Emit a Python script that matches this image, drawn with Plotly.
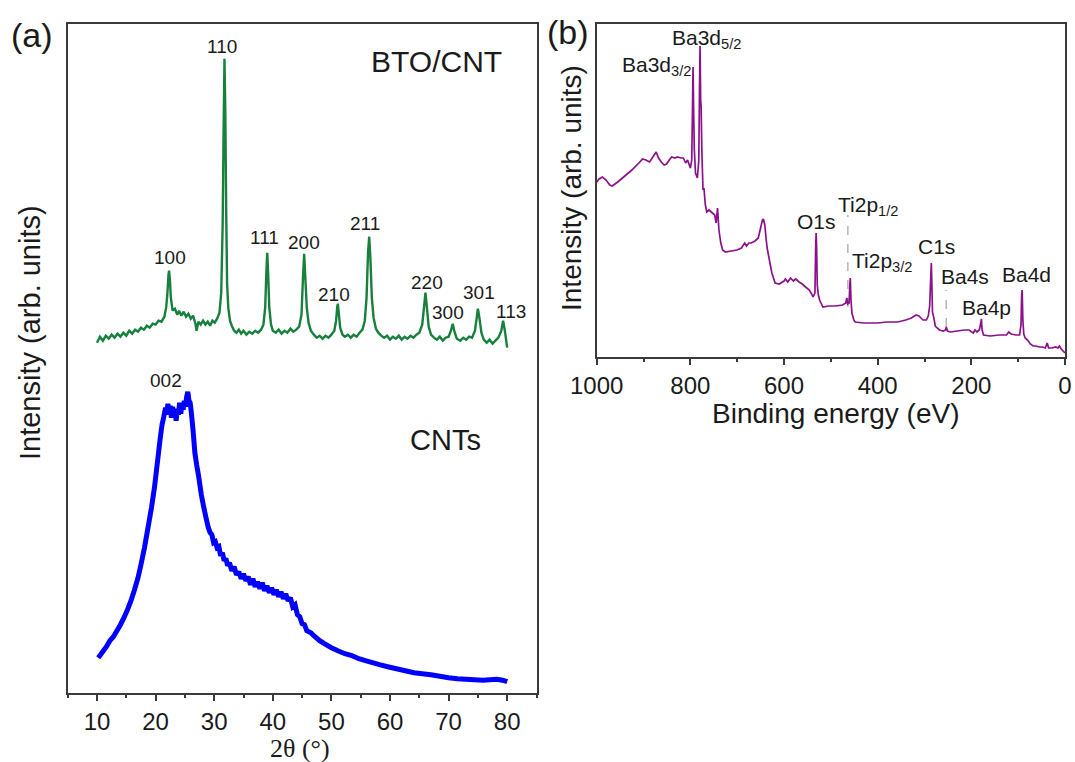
import plotly.graph_objects as go

# ---------------- Panel (a): XRD ----------------
bto_2theta = [10.0, 10.5, 11.0, 11.5, 12.0, 12.5, 13.0, 13.5, 14.0, 14.5, 15.0, 15.5, 16.0, 16.5, 17.0, 17.5,
              18.0, 18.5, 19.0, 19.5, 20.0, 20.5, 21.0, 21.5, 21.8, 22.0, 22.2, 22.3, 22.45, 22.6, 22.9, 23.3,
              23.7, 24.0, 24.4, 24.8, 25.2, 25.6, 26.0, 26.4, 26.8, 27.0, 27.3, 27.7, 28.1, 28.5, 28.9, 29.3,
              29.7, 30.1, 30.5, 30.9, 31.2, 31.45, 31.6, 31.75, 31.9, 32.05, 32.2, 32.4, 32.7, 33.0, 33.4,
              33.8, 34.2, 34.6, 35.0, 35.5, 36.0, 36.5, 37.0, 37.5, 38.0, 38.4, 38.7, 38.9, 39.05, 39.2, 39.4,
              39.7, 40.0, 40.5, 41.0, 41.5, 42.0, 42.5, 43.0, 43.5, 44.0, 44.5, 44.9, 45.15, 45.35, 45.55,
              45.8, 46.1, 46.5, 47.0, 47.5, 48.0, 48.5, 49.0, 49.5, 50.0, 50.5, 50.8, 51.0, 51.1, 51.25, 51.5,
              51.9, 52.3, 52.8, 53.3, 53.8, 54.3, 54.8, 55.3, 55.7, 56.0, 56.25, 56.45, 56.65, 56.9, 57.2,
              57.6, 58.0, 58.5, 59.0, 59.5, 60.0, 60.5, 61.0, 61.5, 62.0, 62.5, 63.0, 63.5, 64.0, 64.5, 65.0,
              65.5, 65.8, 66.05, 66.3, 66.6, 67.0, 67.5, 68.0, 68.5, 69.0, 69.5, 70.0, 70.4, 70.7, 71.0, 71.4,
              72.0, 72.5, 73.0, 73.5, 74.0, 74.5, 74.8, 75.0, 75.25, 75.6, 76.0, 76.5, 77.0, 77.5, 78.0, 78.5,
              79.0, 79.3, 79.6, 80.0]
bto_intensity = [350, 356, 352, 357, 354, 358, 355, 359, 356, 360, 357, 362, 359, 363, 361, 365,
                 363, 367, 365, 369, 368, 372, 371, 376, 385, 398, 418, 422, 412, 395, 382, 384,
                 378, 382, 377, 381, 376, 379, 374, 377, 369, 362, 371, 368, 372, 368, 371, 367,
                 372, 370, 374, 380, 400, 470, 560, 634, 580, 480, 410, 385, 372, 367, 362,
                 360, 363, 359, 362, 358, 361, 359, 362, 360, 363, 368, 385, 420, 440, 420, 385,
                 368, 362, 360, 363, 359, 362, 360, 364, 361, 363, 366, 378, 415, 439, 415,
                 385, 370, 362, 358, 355, 357, 354, 357, 355, 358, 362, 372, 386, 389, 380, 365,
                 358, 356, 358, 355, 358, 356, 360, 363, 372, 395, 440, 456, 435, 395, 375,
                 364, 360, 357, 355, 357, 353, 356, 354, 357, 353, 356, 354, 357, 355, 358, 360,
                 368, 385, 400, 385, 366, 358, 355, 353, 356, 352, 355, 356, 362, 369, 361, 354,
                 352, 355, 353, 356, 355, 362, 375, 384, 375, 360, 353, 350, 353, 349, 352, 355,
                 362, 372, 362, 345]

cnt_2theta = [10.2, 10.6, 11.1, 11.6, 12.2, 12.8, 13.4, 14.0, 14.6, 15.2, 15.8, 16.4, 17.0, 17.5, 18.1,
              18.7, 19.3, 19.8, 20.2, 20.5, 20.8, 21.1, 21.4, 21.7, 21.9, 22.1, 22.3, 22.5, 22.7, 22.9,
              23.1, 23.3, 23.5, 23.7, 23.9, 24.1, 24.3, 24.5, 24.7, 24.9, 25.1, 25.3, 25.5, 25.7, 25.9,
              26.1, 26.4, 26.7, 27.0, 27.3, 27.8, 28.2, 28.6, 29.0, 29.3, 29.6, 29.9, 30.2, 30.5, 30.8,
              31.1, 31.4, 31.7, 32.0, 32.3, 32.6, 33.0, 33.4, 33.8, 34.2, 34.6, 35.0, 35.4, 35.8, 36.2,
              36.6, 37.0, 37.4, 37.8, 38.2, 38.6, 39.0, 39.4, 39.8, 40.2, 40.6, 41.0, 41.4, 41.8, 42.2,
              42.6, 43.0, 43.4, 43.8, 44.2, 44.6, 45.0, 45.4, 45.8, 46.5, 47.0, 48.0, 48.8, 50.0, 51.1,
              52.3, 53.5, 54.7, 55.8, 57.0, 58.2, 59.6, 61.1, 62.6, 64.1, 65.5, 67.0, 68.5, 70.0, 71.5,
              72.9, 74.4, 75.9, 77.0, 78.2, 79.2, 80.0]
cnt_intensity = [35, 38, 42, 46, 52, 56, 62, 68, 75, 83, 92, 103, 115, 128, 145,
                 165, 185, 205, 225, 240, 255, 268, 276, 285, 278, 289, 280, 287, 275, 286,
                 277, 284, 272, 283, 278, 290, 279, 288, 283, 292, 286, 296, 301, 292, 290,
                 280, 262, 240, 228, 218, 198, 186, 175, 165, 160, 158, 150, 151, 145, 146,
                 137, 140, 132, 134, 127, 130, 122, 126, 118, 121, 114, 119, 112, 116, 108,
                 114, 106, 111, 104, 110, 102, 107, 100, 105, 98, 103, 96, 101, 94, 99,
                 92, 95, 86, 88, 78, 76, 69, 68, 62, 60, 57, 52, 49, 45, 42,
                 39, 37, 34, 32, 30, 28, 26, 24, 22, 20, 19, 18, 16.5, 15, 14,
                 13.5, 13, 12.5, 13, 13.5, 12.5, 11]

xrd_peak_labels = ["110", "100", "111", "200", "210", "211", "220", "300", "301", "113"]
xrd_label_x = [31.3, 22.4, 38.6, 45.4, 50.4, 55.7, 66.3, 69.9, 75.2, 80.6]
xrd_label_y = [646, 435, 455, 450, 398, 469, 410, 380, 400, 381]

# ---------------- Panel (b): XPS survey ----------------
xps_energy = [1000, 995, 988, 980, 972, 967, 955, 940, 925, 910, 902, 895, 887, 880, 873, 868, 862, 856,
              851, 845, 840, 833, 828, 820, 815, 810, 806, 800, 797, 795.5, 794.3, 793, 791.5, 789, 785,
              782, 780.5, 779.3, 778, 777, 775.5, 773, 771, 768, 765, 760, 753, 748, 745, 742, 739, 735,
              731, 725, 713, 700, 691, 684, 680, 675, 670, 662, 655, 650, 646, 644, 641, 638, 636, 632,
              626, 619, 610, 600, 597, 592, 586, 580, 575, 568, 561, 554, 546, 541, 538, 534, 532.5,
              531.5, 530.5, 529, 527, 524, 520, 517, 505, 490, 475, 468, 466, 464, 461, 459.5, 458.5,
              457, 455, 451, 448, 430, 400, 380, 357, 340, 328, 318, 312, 303, 296, 292, 289, 286.5,
              285.5, 284.5, 283, 280, 277, 273, 268, 260, 255, 253.5, 251, 245, 230, 215, 205, 196, 192,
              188, 183, 179.5, 178.5, 177, 174, 160, 140, 125, 120, 115, 105, 97, 94, 92.5, 91.5, 90, 88,
              85, 80, 74, 68, 62, 55, 48, 42, 38, 35, 28, 20, 15, 12, 8, 4, 0]
xps_intensity = [174.7, 177.7, 179.7, 176.7, 171.7, 170.7, 174.7, 180.7, 186.7, 193.7, 197.7, 196.7,
                 194.7, 199.7, 204.7, 198.7, 194.7, 191.7, 192.7, 196.7, 199.7, 198.7, 199.7, 198.7,
                 198.7, 193.7, 196.7, 188.7, 196.7, 246.7, 289.7, 246.7, 206.7, 183.7, 178.7, 196.7,
                 266.7, 310.7, 256.7, 249.7, 206.7, 166.7, 168.7, 151.7, 144.7, 146.7, 143.7, 141.7,
                 133.7, 148.7, 126.7, 113.7, 106.7, 104.7, 105.7, 106.7, 108.7, 113.7, 110.7, 113.7,
                 113.7, 115.7, 118.7, 128.7, 136.7, 137.7, 131.7, 116.7, 108.7, 98.7, 83.7, 73.7, 72.7,
                 75.7, 77.7, 74.7, 78.7, 75.7, 77.7, 74.7, 72.7, 69.7, 66.7, 62.7, 59.7, 63.7, 106.7,
                 123.7, 111.7, 71.7, 62.7, 56.7, 52.7, 49.7, 50.7, 50.7, 51.7, 53.7, 58.7, 52.7, 53.7,
                 71.7, 78.7, 56.7, 43.7, 36.7, 34.7, 33.7, 33.7, 34.7, 34.7, 36.7, 38.7, 41.7, 40.7,
                 36.7, 36.7, 40.7, 50.7, 81.7, 93.7, 76.7, 44.7, 38.7, 30.7, 28.7, 26.7, 25.7, 26.7,
                 29.7, 25.7, 24.7, 25.7, 26.7, 26.7, 23.7, 26.7, 24.7, 26.7, 34.7, 37.7, 26.7, 21.7,
                 20.7, 21.7, 21.7, 24.7, 22.7, 21.7, 21.7, 31.7, 61.7, 66.7, 36.7, 22.7, 18.7, 16.7,
                 12.7, 10.7, 10.7, 9.7, 9.7, 8.7, 13.7, 8.7, 8.7, 9.7, 8.7, 10.7, 7.7, 5.7, 3.7]

xps_labels = ["Ba3d<sub>5/2</sub>", "Ba3d<sub>3/2</sub>", "O1s", "Ti2p<sub>1/2</sub>", "Ti2p<sub>3/2</sub>",
              "C1s", "Ba4s", "Ba4p", "Ba4d"]
xps_label_x = [766, 873, 530, 419, 390, 275, 214, 168, 83]
xps_label_y = [318, 291, 135, 151, 95, 110, 80, 49, 82]

marker_lines_x = [463.7, 253.6]
marker_lines_top = [141.7, 66.7]
marker_lines_bottom = [49.7, 29.7]

TXT = "#1a1a1a"
FRAME = "#3a3a3a"
SANS = "Liberation Sans, Arial, sans-serif"

fig = go.Figure()
fig.add_trace(go.Scatter(x=cnt_2theta, y=cnt_intensity, mode="lines",
                         line=dict(color="#0000ff", width=5, simplify=False),
                         xaxis="x", yaxis="y", showlegend=False))
fig.add_trace(go.Scatter(x=bto_2theta, y=bto_intensity, mode="lines",
                         line=dict(color="#17803d", width=2.4, simplify=False),
                         xaxis="x", yaxis="y", showlegend=False))
for lx, top, bot in zip(marker_lines_x, marker_lines_top, marker_lines_bottom):
    fig.add_trace(go.Scatter(x=[lx, lx], y=[bot, top], mode="lines",
                             line=dict(color="#b5b5b5", width=1.5, dash="dash"),
                             xaxis="x2", yaxis="y2", showlegend=False))
fig.add_trace(go.Scatter(x=xps_energy, y=xps_intensity, mode="lines",
                         line=dict(color="#8b118b", width=1.7, simplify=False),
                         xaxis="x2", yaxis="y2", showlegend=False))

annotations = []
for t, x, y in zip(xrd_peak_labels, xrd_label_x, xrd_label_y):
    annotations.append(dict(text=t, x=x, y=y, xref="x", yref="y", showarrow=False,
                            font=dict(family=SANS, size=19, color=TXT)))
annotations.append(dict(text="002", x=21.85, y=312, xref="x", yref="y", showarrow=False,
                        font=dict(family=SANS, size=19, color=TXT)))
annotations.append(dict(text="BTO/CNT", x=67.9, y=631, xref="x", yref="y", showarrow=False,
                        font=dict(family=SANS, size=30, color=TXT)))
annotations.append(dict(text="CNTs", x=69.5, y=253, xref="x", yref="y", showarrow=False,
                        font=dict(family=SANS, size=29, color=TXT)))
for t, x, y in zip(xps_labels, xps_label_x, xps_label_y):
    annotations.append(dict(text=t, x=x, y=y, xref="x2", yref="y2", showarrow=False,
                            font=dict(family=SANS, size=21, color=TXT)))

W, H = 1075, 762
def px(xp, yp):
    return xp / W, 1 - yp / H

for text, (xp, yp), size, fam, ang in [
    ("(a)", (32, 35), 34, SANS, 0),
    ("(b)", (568, 32), 34, SANS, 0),
    ("Intensity (arb. units)", (30, 333), 29, SANS, -90),
    ("Intensity (arb. units)", (572, 188), 28, SANS, -90),
    ("2θ (°)", (300, 748), 26, "Liberation Serif, Times New Roman, serif", 0),
    ("Binding energy (eV)", (835, 413), 28, SANS, 0),
]:
    ax, ay = px(xp, yp)
    annotations.append(dict(text=text, x=ax, y=ay, xref="paper", yref="paper", showarrow=False,
                            textangle=ang, xanchor="center", yanchor="middle",
                            font=dict(family=fam, size=size, color=TXT)))

common_x = dict(showgrid=False, zeroline=False, showline=True, mirror=True, linecolor=FRAME, linewidth=1.5,
                ticks="outside", ticklen=7, tickwidth=1.5, tickcolor=FRAME, automargin=False,
                tickfont=dict(family=SANS, size=24, color=TXT))
common_y = dict(showgrid=False, zeroline=False, showline=True, mirror=True, linecolor=FRAME, linewidth=1.5,
                ticks="", showticklabels=False, automargin=False)

fig.update_layout(
    template="none",
    width=W, height=H, margin=dict(l=0, r=0, t=0, b=0, pad=0), autosize=False,
    paper_bgcolor="white", plot_bgcolor="white", showlegend=False,
    xaxis=dict(domain=[67.7 / W, 536.5 / W], range=[5, 85], tick0=0, dtick=10,
               minor=dict(dtick=5, tick0=0, ticks="outside", ticklen=4, tickcolor=FRAME, tickwidth=1.5,
                          showgrid=False),
               anchor="y", **common_x),
    yaxis=dict(domain=[1 - 692.7 / H, 1 - 24 / H], range=[0, 668.7], anchor="x", **common_y),
    xaxis2=dict(domain=[596.7 / W, 1065 / W], range=[1000, 0], tick0=0, dtick=200,
                minor=dict(dtick=100, tick0=0, ticks="outside", ticklen=4, tickcolor=FRAME, tickwidth=1.5,
                           showgrid=False),
                anchor="y2", **common_x),
    yaxis2=dict(domain=[1 - 356.7 / H, 1 - 24 / H], range=[0, 332.7], anchor="x2", **common_y),
    annotations=annotations,
)

fig.write_html("out.html")
